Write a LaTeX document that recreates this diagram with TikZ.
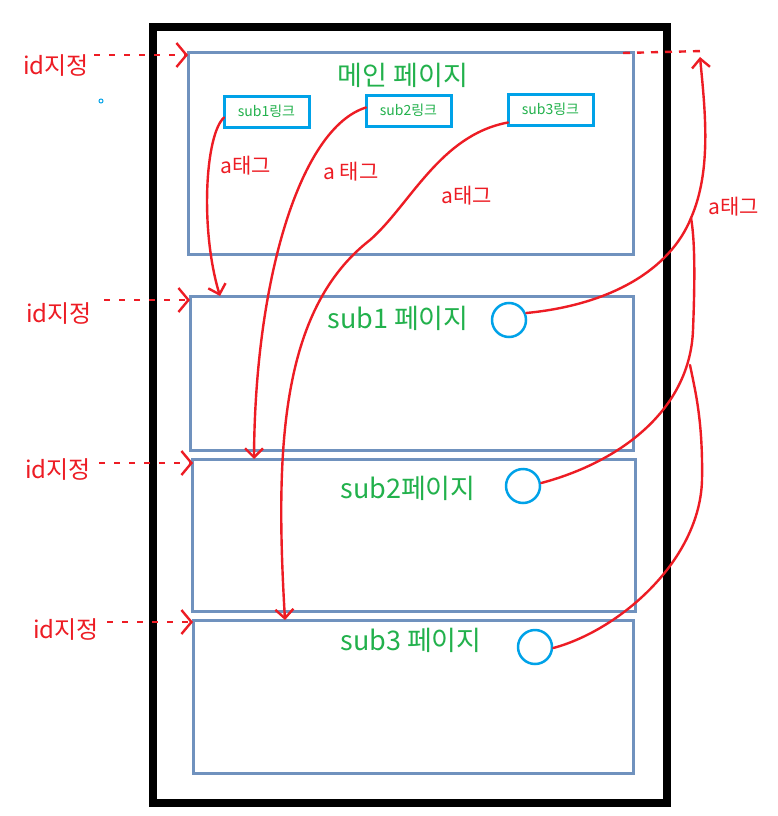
\documentclass[tikz,border=0pt]{standalone}
\usepackage{fontspec}
\setmainfont{Noto Sans CJK KR}
\usetikzlibrary{arrows.meta}
\definecolor{hred}{HTML}{ED1C24}
\definecolor{hgreen}{HTML}{22B14C}
\definecolor{hblue}{HTML}{7092BE}
\definecolor{hcyan}{HTML}{00A2E8}
\begin{document}
\begin{tikzpicture}[x=1pt,y=-1pt,
  page/.style={draw=hblue, line width=3pt, inner sep=0pt, outer sep=0pt, anchor=north west},
  linkbox/.style={draw=hcyan, line width=3pt, minimum width=85pt, minimum height=31pt, inner sep=0pt, outer sep=0pt, anchor=north west, text=hgreen, font=\fontsize{14}{14}\selectfont},
  circ/.style={circle, draw=hcyan, line width=2.5pt, minimum size=34pt, inner sep=0pt},
  idlab/.style={text=hred, font=\fontsize{24}{24}\selectfont, inner sep=0pt},
  atag/.style={text=hred, font=\fontsize{21}{21}\selectfont, inner sep=0pt},
  ttl/.style={text=hgreen, font=\fontsize{27}{27}\selectfont, inner sep=0pt},
  link/.style={draw=hred, line width=2.4pt, line cap=round, -{Straight Barb[length=9pt,width=18pt,line width=2.4pt]}},
  plain/.style={draw=hred, line width=2.4pt, line cap=round},
  idarrow/.style={draw=hred, line width=2.4pt, dash pattern=on 6pt off 9pt, -{Straight Barb[length=10pt,width=24pt,line width=2.4pt]}},
  dotline/.style={draw=hred, line width=2.4pt, dash pattern=on 7pt off 7pt}
]
\useasboundingbox (0,0) rectangle (777,816);
\fill[white] (0,0) rectangle (777,816);

% outer frame
\node[draw=black, line width=7.5pt, inner sep=0pt, outer sep=0pt, anchor=north west,
      minimum width=514pt, minimum height=776pt] (frame) at (153,27) {};

% pages
\node[page, minimum width=445pt, minimum height=201pt] (main) at (188,53) {};
\node[page, minimum width=443pt, minimum height=154pt] (s1) at (190,296) {};
\node[page, minimum width=443pt, minimum height=152pt] (s2) at (192,459) {};
\node[page, minimum width=440pt, minimum height=153pt] (s3) at (193,620) {};

% titles
\node[ttl] (tmain) at (403,75) {메인 페이지};
\node[ttl] (t1) at (398,318) {sub1 페이지};
\node[ttl] (t2) at (408,488) {sub2페이지};
\node[ttl] (t3) at (411,640) {sub3 페이지};

% link boxes
\node[linkbox] (l1) at (224,96) {sub1링크};
\node[linkbox] (l2) at (366,95) {sub2링크};
\node[linkbox] (l3) at (508,94) {sub3링크};

% circles
\node[circ] (c1) at (509,320) {};
\node[circ] (c2) at (523,486) {};
\node[circ] (c3) at (535,647) {};

% tiny dot
\node[circle, draw=hcyan, line width=1pt, minimum size=4pt, inner sep=0pt] (dot) at (101,101) {};

% id labels
\node[idlab] (id1) at (56,66) {id지정};
\node[idlab] (id2) at (59,314) {id지정};
\node[idlab] (id3) at (58,470) {id지정};
\node[idlab] (id4) at (66,630) {id지정};

% id arrows
\coordinate (p1) at (188,55);
\coordinate (p2) at (190,300);
\coordinate (p3) at (193,463);
\coordinate (p4) at (193,622);
\draw[idarrow] (id1.east |- p1) ++(5,0) -- (p1);
\draw[idarrow] (id2.east |- p2) ++(12,0) -- (p2);
\draw[idarrow] (id3.east |- p3) ++(8,0) -- (p3);
\draw[idarrow] (id4.east |- p4) ++(8,0) -- (p4);

% a tag labels
\node[atag] (a1) at (246,166) {a태그};
\node[atag] (a2) at (351,172) {a 태그};
\node[atag] (a3) at (467,196) {a태그};
\node[atag] (a4) at (734,207) {a태그};

% downward links
\draw[link] (l1.west) ++(0,6) .. controls (205,135) and (200,230) .. ([xshift=30pt]s1.north west);
\draw[link] (l2.west) ++(0,-3) .. controls (300,128) and (255,280) .. ([xshift=62pt]s2.north west);
\draw[link] (l3.west) ++(0,13) .. controls (440,135) and (410,205) .. (370,240)
   .. controls (280,310) and (275,450) .. ([xshift=92pt]s3.north west);

% upward links
\coordinate (top) at (700,57);
\coordinate (tr) at (703,51);
\coordinate (j1) at (691,218);
\coordinate (j2) at (690,365);
\draw[dotline] (main.north east) ++(-10,0) -- (tr);
\draw[link] (c1.east) ++(-1,-7) .. controls (610,305) and (670,270) .. (j1)
   .. controls (712,170) and (705,110) .. (top);
\draw[plain] (c2.east) ++(0,-3) .. controls (620,462) and (690,410) .. (693,330)
   .. controls (695,280) and (695,240) .. (j1);
\draw[plain] (c3.east) ++(0,1) .. controls (620,630) and (700,560) .. (702,480)
   .. controls (703,420) and (695,390) .. (j2);
\end{tikzpicture}
\end{document}
